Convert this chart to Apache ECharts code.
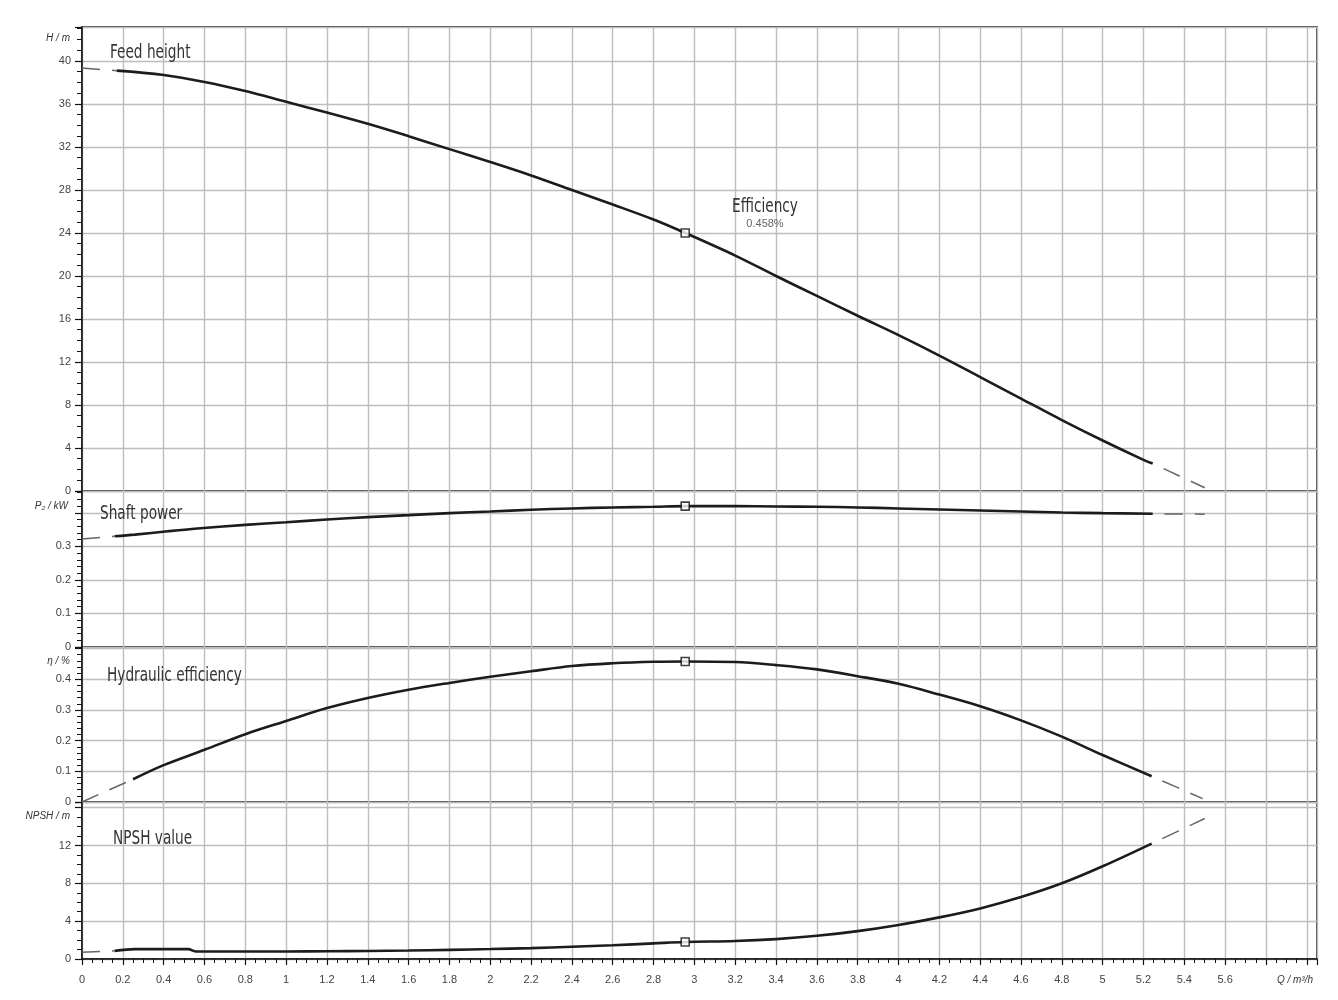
<!DOCTYPE html>
<html>
<head>
<meta charset="utf-8">
<script src="https://cdn.jsdelivr.net/npm/echarts@6/dist/echarts.min.js"></script>
<style>html,body{margin:0;padding:0;background:#fff}#c{width:1338px;height:1000px}</style>
</head>
<body>
<div id="c"></div>
<script>
// ---- data (flow Q in m³/h) ----
const qHead = [0.17,0.4,0.6,0.8,1.0,1.2,1.4,1.6,1.8,2.0,2.2,2.4,2.6,2.8,2.955,3.2,3.4,3.6,3.8,4.0,4.2,4.4,4.6,4.8,5.0,5.2,5.245];
const head = [39.1,38.7,38.05,37.2,36.2,35.2,34.15,33.0,31.8,30.6,29.35,28.0,26.65,25.25,24.0,21.9,20.0,18.15,16.3,14.5,12.6,10.6,8.6,6.6,4.7,2.9,2.55];
const qHeadStart = [0,0.17];
const headStart = [39.34,39.1];
const qHeadEnd = [5.245,5.376,5.5];
const headEnd = [2.55,1.4,0.3];

const qPower = [0.16,0.26,0.42,0.58,0.8,1.0,1.2,1.4,1.6,1.8,2.0,2.2,2.4,2.6,2.8,2.955,3.2,3.4,3.6,3.8,4.0,4.2,4.4,4.6,4.8,5.0,5.245];
const power = [0.33,0.335,0.345,0.354,0.364,0.372,0.38,0.387,0.393,0.399,0.404,0.409,0.413,0.416,0.418,0.42,0.42,0.419,0.418,0.416,0.413,0.41,0.407,0.404,0.401,0.399,0.397];
const qPowerStart = [0,0.16];
const powerStart = [0.322,0.33];
const qPowerEnd = [5.245,5.5];
const powerEnd = [0.397,0.396];

const qEff = [0.25,0.4,0.6,0.8,1.0,1.2,1.4,1.6,1.8,2.0,2.2,2.4,2.6,2.8,2.955,3.2,3.4,3.6,3.8,4.0,4.2,4.4,4.6,4.8,5.0,5.24];
const eff = [0.074,0.12,0.17,0.221,0.264,0.306,0.339,0.366,0.388,0.408,0.426,0.443,0.452,0.457,0.458,0.456,0.446,0.432,0.41,0.385,0.35,0.312,0.266,0.213,0.153,0.084];
const qEffStart = [0,0.25];
const effStart = [0,0.074];
const qEffEnd = [5.24,5.49];
const effEnd = [0.084,0.011];

const qNpsh = [0.16,0.26,0.52,0.56,0.8,1.0,1.2,1.4,1.6,1.8,2.0,2.2,2.4,2.6,2.8,2.955,3.2,3.4,3.6,3.8,4.0,4.2,4.4,4.6,4.8,5.0,5.24];
const npsh = [0.86,1.04,1.04,0.79,0.79,0.8,0.82,0.85,0.9,0.97,1.05,1.15,1.3,1.45,1.65,1.8,1.9,2.1,2.45,2.95,3.6,4.4,5.35,6.55,8.0,9.8,12.2];
const qNpshStart = [0,0.16];
const npshStart = [0.71,0.86];
const qNpshEnd = [5.24,5.5];
const npshEnd = [12.2,14.85];

const dutyQ = 2.955;
const dutyValues = [24.0,0.42,0.458,1.8];   // head, power, efficiency, NPSH at duty point

const panelTitles = ['Feed height','Shaft power','Hydraulic efficiency','NPSH value'];
const axisUnits = ['H / m','P\u2082 / kW','\u03b7 / %','NPSH / m'];
const xUnit = 'Q / m\u00b3/h';
const effNote = ['Efficiency','0.458%'];

// ---- layout ----
const L = 82, R = 21;
const panels = [
  {top:27, height:464, max:43.16, interval:4, minor:4, hide:[]},
  {top:491, height:156, max:0.465, interval:0.1, minor:5, hide:[0.4]},
  {top:647, height:155, max:0.505, interval:0.1, minor:5, hide:[0.5]},
  {top:802, height:157, max:16.6, interval:4, minor:4, hide:[16]}
];
const XMAX = 6.05;
const gridColor = '#bdbdbd';
const lineColor = '#1c1c1c';
const dashColor = '#666';
const labelFont = 'Liberation Sans, Arial, sans-serif';
const titleFont = "'Liberation Sans Narrow','DejaVu Sans Condensed','DejaVu Sans',sans-serif";

const zip = (a,b) => a.map((v,i)=>[v,b[i]]);

const grids = panels.map(p => ({left:L, right:R, top:p.top, height:p.height, show:true, borderColor:'#111', borderWidth:1.5, backgroundColor:'#fff'}));

const xAxes = panels.map((p,i) => {
  const bottom = i === panels.length-1;
  return {
    type:'value', gridIndex:i, min:0, max:XMAX, interval:0.2,
    axisLine:{show:bottom, lineStyle:{color:'#111', width:1.5}},
    axisTick:{show:bottom, length:6, lineStyle:{color:'#111', width:1.2}},
    minorTick:{show:bottom, splitNumber:4, length:4, lineStyle:{color:'#111', width:1}},
    axisLabel:{show:bottom, margin:15, fontSize:11, color:'#444', fontFamily:labelFont, showMaxLabel:false,
      formatter: v => (v > 5.7 ? '' : String(+v.toFixed(1)))},
    splitLine:{show:true, lineStyle:{color:gridColor, width:1.4}}
  };
});

const yAxes = panels.map((p,i) => ({
  type:'value', gridIndex:i, min:0, max:p.max, interval:p.interval,
  axisLine:{show:true, lineStyle:{color:'#111', width:1.5}},
  axisTick:{show:true, length:7, lineStyle:{color:'#111', width:1.2}},
  minorTick:{show:true, splitNumber:p.minor, length:5, lineStyle:{color:'#111', width:1}},
  axisLabel:{margin:11, fontSize:11, color:'#444', fontFamily:labelFont, showMaxLabel:false,
    formatter: v => {
      const r = Math.round(v/p.interval)*p.interval;
      if (Math.abs(r - v) > 1e-6) return '';
      if (p.hide.some(h => Math.abs(h - v) < 1e-6)) return '';
      return String(+v.toFixed(2));
    }},
  splitLine:{show:true, lineStyle:{color:gridColor, width:1.4}}
}));

const solidSets = [zip(qHead,head), zip(qPower,power), zip(qEff,eff), zip(qNpsh,npsh)];
const startSets = [zip(qHeadStart,headStart), zip(qPowerStart,powerStart), zip(qEffStart,effStart), zip(qNpshStart,npshStart)];
const endSets = [zip(qHeadEnd,headEnd), zip(qPowerEnd,powerEnd), zip(qEffEnd,effEnd), zip(qNpshEnd,npshEnd)];

const series = [];
panels.forEach((p,i) => {
  series.push({type:'line', xAxisIndex:i, yAxisIndex:i, data:solidSets[i], showSymbol:false, symbol:'none',
    smooth:0.35, lineStyle:{color:lineColor, width:2.6}, z:5, silent:true});
  series.push({type:'line', xAxisIndex:i, yAxisIndex:i, data:startSets[i], showSymbol:false, symbol:'none',
    lineStyle:{color:dashColor, width:1.5, type:[18,12]}, z:4, silent:true});
  series.push({type:'line', xAxisIndex:i, yAxisIndex:i, data:endSets[i], showSymbol:false, symbol:'none',
    smooth:0.3, lineStyle:{color:dashColor, width:1.5, type:[18,12], dashOffset:-12}, z:4, silent:true});
  series.push({type:'scatter', xAxisIndex:i, yAxisIndex:i, data:[[dutyQ, dutyValues[i]]], symbol:'rect', symbolSize:8,
    itemStyle:{color:'#fff', borderColor:'#111', borderWidth:1.6}, z:10, silent:true});
});

const titlePos = [[110,53],[100,514],[107,676],[113,839]];
const unitPos = [[70,38],[68,506],[70,661],[70,816]];
const graphic = [];
panelTitles.forEach((t,i) => graphic.push({type:'text', x:titlePos[i][0], y:titlePos[i][1], z:100, scaleX:0.8,
  style:{text:t, font:'19px ' + titleFont, fill:'#333', align:'left', verticalAlign:'middle'}}));
axisUnits.forEach((t,i) => graphic.push({type:'text', x:unitPos[i][0], y:unitPos[i][1], z:100,
  style:{text:t, font:'italic 10px ' + labelFont, fill:'#333', align:'right', verticalAlign:'middle'}}));
graphic.push({type:'text', x:1313, y:980, z:100, style:{text:xUnit, font:'italic 10px ' + labelFont, fill:'#333', align:'right', verticalAlign:'middle'}});
graphic.push({type:'text', x:765, y:207, z:100, scaleX:0.8, style:{text:effNote[0], font:'19px ' + titleFont, fill:'#333', align:'center', verticalAlign:'middle'}});
graphic.push({type:'text', x:765, y:224, z:100, style:{text:effNote[1], font:'11px ' + labelFont, fill:'#666', align:'center', verticalAlign:'middle'}});

const chart = echarts.init(document.getElementById('c'), null, {renderer:'canvas'});
chart.setOption({
  backgroundColor:'#fff',
  animation:false,
  grid:grids, xAxis:xAxes, yAxis:yAxes, series:series, graphic:graphic
});
</script>
</body>
</html>
